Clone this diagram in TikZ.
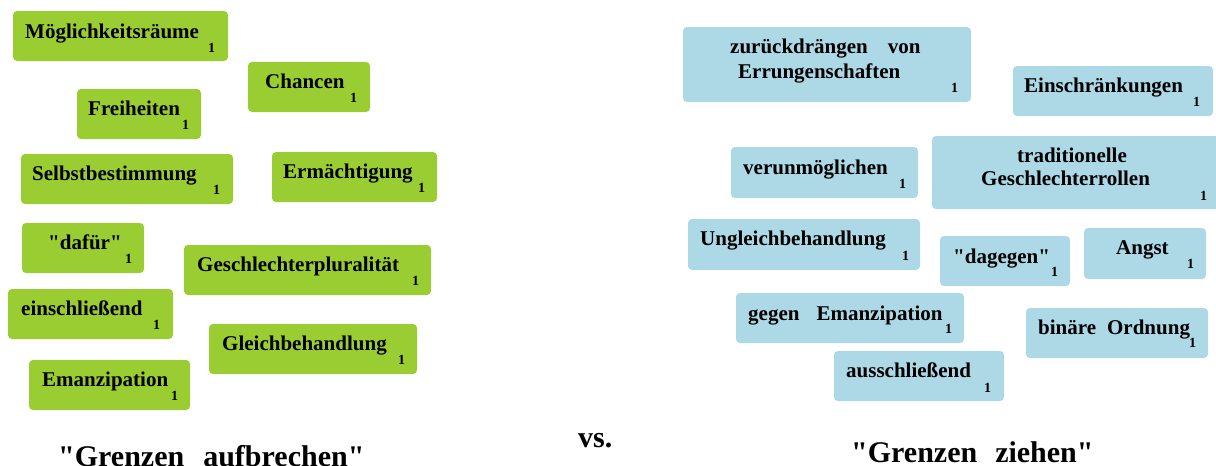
\documentclass[tikz,border=0pt]{standalone}
\usepackage{fontspec}
\setmainfont{Liberation Serif}
\usetikzlibrary{fit}
\definecolor{kgreen}{HTML}{9ACD32}
\definecolor{kblue}{HTML}{ADD8E6}
\newcommand\qq{\textquotedbl}
\tikzset{
  gbox/.style={fill=kgreen, draw=none, rounded corners=4pt, inner sep=0pt},
  bbox/.style={fill=kblue, draw=none, rounded corners=4pt, inner sep=0pt},
  word/.style={font=\fontsize{21}{24}\selectfont\bfseries, inner sep=0pt, anchor=base west, text=black},
  cnt/.style={font=\fontsize{14}{16}\selectfont\bfseries, inner sep=0pt, anchor=base west, text=black},
  title/.style={font=\fontsize{30}{34}\selectfont\bfseries, inner sep=0pt, anchor=base west, text=black},
}
\begin{document}
\begin{tikzpicture}[x=1pt,y=-1pt]
\useasboundingbox (0,0) rectangle (1216,466);
% green boxes
\node[gbox, fit={(13,11) (228,61)}] (g1) {};
\node[word] (g1t) at (25,38) {Möglichkeitsräume};
\node[cnt] (g1n) at (208,52) {1};
\node[gbox, fit={(248,62) (370,112)}] (g2) {};
\node[word] (g2t) at (265,88) {Chancen};
\node[cnt] (g2n) at (350,102) {1};
\node[gbox, fit={(77,89) (201,139)}] (g3) {};
\node[word] (g3t) at (88,115) {Freiheiten};
\node[cnt] (g3n) at (182,129) {1};
\node[gbox, fit={(21,154) (233,204)}] (g4) {};
\node[word] (g4t) at (32,180) {Selbstbestimmung};
\node[cnt] (g4n) at (213,194) {1};
\node[gbox, fit={(272,152) (437,202)}] (g5) {};
\node[word] (g5t) at (283,178) {Ermächtigung};
\node[cnt] (g5n) at (418,192) {1};
\node[gbox, fit={(22,223) (144,273)}] (g6) {};
\node[word] (g6t) at (48,249) {\qq dafür\qq};
\node[cnt] (g6n) at (125,263) {1};
\node[gbox, fit={(184,245) (431,295)}] (g7) {};
\node[word] (g7t) at (197,271) {Geschlechterpluralität};
\node[cnt] (g7n) at (412,285) {1};
\node[gbox, fit={(8,289) (173,339)}] (g8) {};
\node[word] (g8t) at (21,315) {einschließend};
\node[cnt] (g8n) at (153,329) {1};
\node[gbox, fit={(209,324) (417,374)}] (g9) {};
\node[word] (g9t) at (222,350) {Gleichbehandlung};
\node[cnt] (g9n) at (398,364) {1};
\node[gbox, fit={(29,360) (190,410)}] (g10) {};
\node[word] (g10t) at (42,386) {Emanzipation};
\node[cnt] (g10n) at (171,400) {1};
% blue boxes
\node[bbox, fit={(683,27) (971,102)}] (b1) {};
\node[word] (b1a) at (730,53) {zurückdrängen\hspace{20pt}von};
\node[word] (b1b) at (738,78) {Errungenschaften};
\node[cnt] (b1n) at (951,92) {1};
\node[bbox, fit={(1013,66) (1213,116)}] (b2) {};
\node[word] (b2t) at (1024,92) {Einschränkungen};
\node[cnt] (b2n) at (1193,106) {1};
\node[bbox, fit={(731,147) (918,198)}] (b3) {};
\node[word] (b3t) at (743,174) {verunmöglichen};
\node[cnt] (b3n) at (899,188) {1};
\node[bbox, fit={(932,136) (1224,209)}] (b4) {};
\node[word] (b4a) at (1017,162) {traditionelle};
\node[word] (b4b) at (981,185) {Geschlechterrollen};
\node[cnt] (b4n) at (1200,200) {1};
\node[bbox, fit={(688,219) (920,270)}] (b5) {};
\node[word] (b5t) at (700,245) {Ungleichbehandlung};
\node[cnt] (b5n) at (902,260) {1};
\node[bbox, fit={(940,236) (1070,286)}] (b6) {};
\node[word] (b6t) at (953,263) {\qq dagegen\qq};
\node[cnt] (b6n) at (1051,276) {1};
\node[bbox, fit={(1084,228) (1206,279)}] (b7) {};
\node[word] (b7t) at (1116,254) {Angst};
\node[cnt] (b7n) at (1187,268) {1};
\node[bbox, fit={(736,293) (964,343)}] (b8) {};
\node[word] (b8t) at (748,320) {gegen\hspace{17pt}Emanzipation};
\node[cnt] (b8n) at (945,333) {1};
\node[bbox, fit={(1026,308) (1208,358)}] (b9) {};
\node[word] (b9t) at (1038,334) {binäre\hspace{11pt}Ordnung};
\node[cnt] (b9n) at (1189,347) {1};
\node[bbox, fit={(834,351) (1004,401)}] (b10) {};
\node[word] (b10t) at (846,377) {ausschließend};
\node[cnt] (b10n) at (984,392) {1};
% titles
\node[title] (tl) at (58,466) {\qq Grenzen\hspace{19pt}aufbrechen\qq};
\node[title] (tv) at (578,447) {vs.};
\node[title] (tr) at (851,462) {\qq Grenzen\hspace{18pt}ziehen\qq};
\end{tikzpicture}
\end{document}
